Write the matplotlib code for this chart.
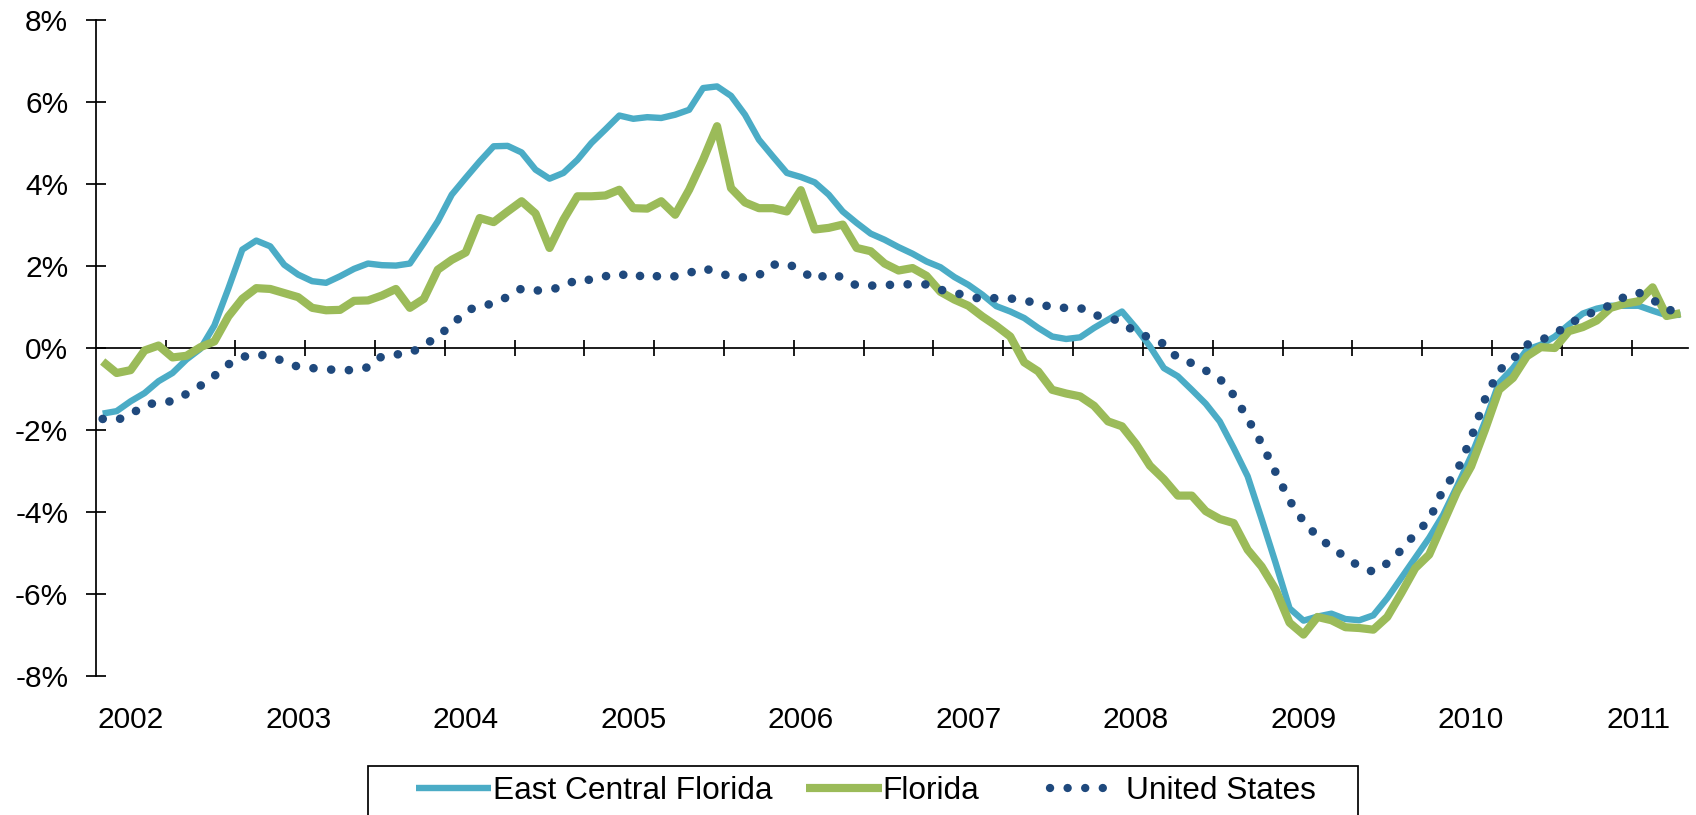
import numpy as np
import pandas as pd
import matplotlib
matplotlib.use("Agg")
import matplotlib.pyplot as plt
from matplotlib.lines import Line2D
from matplotlib.patches import Rectangle

plt.rcParams['font.family'] = ['Liberation Sans', 'DejaVu Sans']

# Monthly observations, Nov 2001 - Apr 2011
months = pd.date_range('2001-11-01', periods=114, freq='MS')

series_names = ["East Central Florida", "Florida", "United States"]

ecf = [-1.60, -1.54, -1.30, -1.10, -0.81, -0.61, -0.28, -0.02, 0.55, 1.45,
       2.40, 2.62, 2.48, 2.03, 1.79, 1.63, 1.59, 1.75, 1.93, 2.06,
       2.02, 2.01, 2.06, 2.56, 3.09, 3.74, 4.15, 4.55, 4.92, 4.93,
       4.77, 4.35, 4.13, 4.27, 4.59, 5.00, 5.33, 5.67, 5.59, 5.63,
       5.61, 5.69, 5.81, 6.34, 6.38, 6.15, 5.69, 5.08, 4.67, 4.27,
       4.17, 4.04, 3.74, 3.33, 3.05, 2.79, 2.64, 2.46, 2.30, 2.11,
       1.97, 1.73, 1.54, 1.30, 1.02, 0.89, 0.73, 0.49, 0.28, 0.22,
       0.26, 0.49, 0.69, 0.89, 0.49, 0.04, -0.49, -0.69, -1.02, -1.36,
       -1.79, -2.44, -3.13, -4.17, -5.24, -6.35, -6.65, -6.55, -6.48, -6.61,
       -6.64, -6.52, -6.10, -5.61, -5.12, -4.63, -4.07, -3.37, -2.64, -1.79,
       -0.85, -0.49, -0.04, 0.08, 0.28, 0.57, 0.84, 0.96, 1.03, 1.03,
       1.03, 0.91, 0.80, 0.81]

florida = [-0.33, -0.61, -0.54, -0.06, 0.06, -0.23, -0.19, 0.02, 0.16, 0.77,
           1.20, 1.46, 1.44, 1.34, 1.24, 0.98, 0.92, 0.93, 1.15, 1.16,
           1.28, 1.44, 0.98, 1.20, 1.91, 2.15, 2.33, 3.17, 3.07, 3.33,
           3.58, 3.28, 2.44, 3.13, 3.70, 3.70, 3.72, 3.86, 3.41, 3.40,
           3.58, 3.25, 3.86, 4.59, 5.41, 3.90, 3.55, 3.41, 3.41, 3.33,
           3.85, 2.89, 2.93, 3.01, 2.44, 2.36, 2.06, 1.89, 1.95, 1.76,
           1.37, 1.18, 1.03, 0.77, 0.54, 0.28, -0.35, -0.57, -1.02, -1.11,
           -1.18, -1.41, -1.79, -1.91, -2.34, -2.87, -3.20, -3.60, -3.60, -3.98,
           -4.17, -4.27, -4.92, -5.33, -5.89, -6.70, -6.99, -6.56, -6.64, -6.81,
           -6.83, -6.87, -6.56, -5.98, -5.37, -5.04, -4.27, -3.50, -2.89, -1.99,
           -1.02, -0.73, -0.20, 0.02, 0.00, 0.41, 0.51, 0.67, 0.98, 1.08,
           1.14, 1.48, 0.78, 0.85]

us = [-1.73, -1.76, -1.62, -1.40, -1.32, -1.30, -1.12, -0.92, -0.68, -0.40,
      -0.22, -0.15, -0.20, -0.33, -0.46, -0.49, -0.52, -0.54, -0.54, -0.47,
      -0.20, -0.16, -0.12, 0.05, 0.30, 0.55, 0.90, 1.03, 1.08, 1.25,
      1.45, 1.40, 1.42, 1.50, 1.68, 1.66, 1.75, 1.82, 1.70, 1.82,
      1.72, 1.75, 1.83, 1.95, 1.85, 1.74, 1.72, 1.78, 2.03, 2.06,
      1.90, 1.66, 1.82, 1.72, 1.52, 1.52, 1.54, 1.54, 1.56, 1.55,
      1.42, 1.35, 1.26, 1.19, 1.22, 1.21, 1.15, 1.10, 0.98, 0.98,
      0.98, 0.80, 0.76, 0.62, 0.38, 0.25, 0.10, -0.25, -0.37, -0.55,
      -0.75, -1.15, -1.72, -2.33, -3.03, -3.72, -4.23, -4.60, -4.86, -5.10,
      -5.33, -5.46, -5.25, -4.93, -4.53, -4.20, -3.45, -3.00, -2.20, -1.25,
      -0.55, -0.27, 0.08, 0.19, 0.35, 0.57, 0.78, 0.90, 1.05, 1.25,
      1.35, 1.18, 0.95, 0.85]

y_ticks = [-8, -6, -4, -2, 0, 2, 4, 6, 8]

C_ECF = "#4BACC6"
C_FL = "#9BBB59"
C_US = "#1F497D"

W, H = 1696, 815
fig = plt.figure(figsize=(W / 100, H / 100), dpi=100)
ax = fig.add_axes([95.7 / W, 1 - 676 / H, (1687.5 - 95.7) / W, (676 - 20) / H])

x = np.arange(len(months))
ax.plot(x, ecf, color=C_ECF, lw=4.6, solid_joinstyle='round',
        solid_capstyle='butt', zorder=3)
ax.plot(x, florida, color=C_FL, lw=5.9, solid_joinstyle='round',
        solid_capstyle='butt', zorder=4)
ax.plot(x, us, color=C_US, lw=6.2, linestyle=(0, (0.01, 2.05)),
        dash_capstyle='round', zorder=5)

ax.set_xlim(-0.5, len(months) - 0.5)
ax.set_ylim(-8, 8)

for s in ['top', 'right']:
    ax.spines[s].set_visible(False)
ax.spines['bottom'].set_position(('data', 0))
ax.spines['bottom'].set_linewidth(1.25)
ax.spines['left'].set_linewidth(1.25)

# tick marks every 5 categories on the zero line
ax.set_xticks(np.arange(4.5, len(months), 5))
ax.tick_params(axis='x', direction='inout', length=11.5, width=1.25,
               labelbottom=False)

ax.set_yticks(y_ticks)
ax.set_yticklabels([f"{v}%" for v in y_ticks])
ax.tick_params(axis='y', direction='inout', length=13.9, width=1.25,
               pad=12.8, labelsize=21.5)

# year labels under the plot area
sec = ax.secondary_xaxis('bottom')
jan_idx = np.where(months.month == 1)[0]
sec.set_xticks(jan_idx)
sec.set_xticklabels([str(months[i].year) for i in jan_idx])
sec.tick_params(length=0, pad=21.5, labelsize=21.5)
sec.spines['bottom'].set_visible(False)

# legend frame
fig.add_artist(Rectangle((368.3 / W, -0.05), (1358 - 368.3) / W,
                         0.05 + (815 - 766) / H, transform=fig.transFigure,
                         fill=False, edgecolor='black', lw=1.25))

fs = 22.8
px_per_em = fs * 100 / 72
yc = 1 - 791 / H
handles = [
    Line2D([], [], color=C_ECF, lw=4.6, solid_capstyle='butt'),
    Line2D([], [], color=C_FL, lw=5.9, solid_capstyle='butt'),
    Line2D([], [], color=C_US, lw=6.0, linestyle=(0, (0.01, 2.1)),
           dash_capstyle='round'),
]
starts = [416, 806, 1050]
lengths = [75, 76, 70]
pads = [2, 0.5, 5.5]
for h, name, st, ln, pd_ in zip(handles, series_names, starts, lengths, pads):
    fig.legend(handles=[h], labels=[name], loc='center left',
               bbox_to_anchor=(st / W, yc), frameon=False, borderpad=0,
               borderaxespad=0, handlelength=ln / px_per_em,
               handletextpad=pd_ / px_per_em, fontsize=fs)

fig.savefig("out.png", dpi=100)
